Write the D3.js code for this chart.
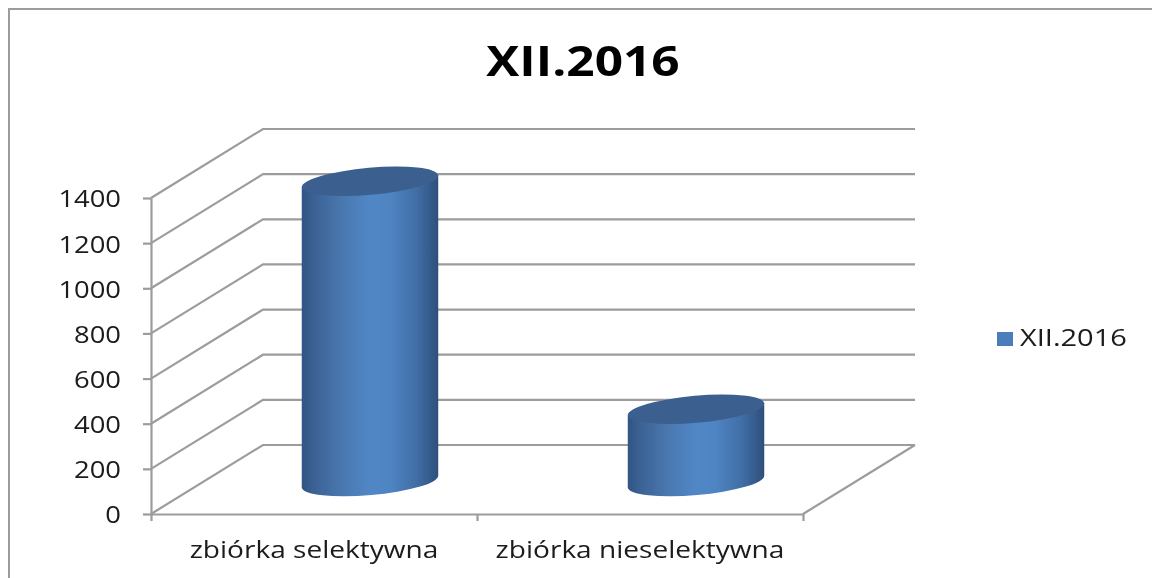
<!DOCTYPE html>
<html lang="en">
<head>
    <meta charset="UTF-8">
    <title>XII.2016</title>
    <script src="https://d3js.org/d3.v7.min.js"></script>
    <style>
        html, body { margin: 0; padding: 0; background: #fff; overflow: hidden; }
        text { font-family: "Open Sans", "Noto Sans", sans-serif; fill: #1a1a1a; }
    </style>
</head>
<body>
    <div id="chart"></div>
    <script>
        const categories = ["zbiórka selektywna", "zbiórka nieselektywna"];
        const values = [1330, 320];
        const yTicks = [0, 200, 400, 600, 800, 1000, 1200, 1400];
        const seriesName = "XII.2016";

        const width = 1152, height = 578;
        const plotLeft = 151, plotRight = 803, plotBottom = 514, plotTop = 198;

        // depth of the fake 3d box
        const depthX = 112, depthY = -69;

        const gridColor = "#9c9c9c";

        // the picture was stretched sideways, so the text has to be too
        function stretch(sel, factor) {
            sel.each(function() {
                d3.select(this)
                    .attr("textLength", this.getComputedTextLength() * factor)
                    .attr("lengthAdjust", "spacingAndGlyphs");
            });
        }

        const svg = d3.select("#chart").append("svg")
            .attr("width", width)
            .attr("height", height)
            .style("display", "block");

        const y = d3.scaleLinear().domain([0, 1400]).range([plotBottom, plotTop]);
        const x = d3.scaleBand().domain(categories).range([plotLeft, plotRight]);
        const edges = d3.scaleLinear().domain([0, categories.length]).range([plotLeft, plotRight]);

        const defs = svg.append("defs");
        const grad = defs.append("linearGradient").attr("id", "side");
        [[0, "#2f5583"], [0.1, "#3c6395"], [0.3, "#4a78b0"], [0.5, "#5187c6"], [0.65, "#4f84c2"], [0.85, "#3f6ca3"], [1, "#2e4f7b"]]
            .forEach(s => grad.append("stop").attr("offset", s[0]).attr("stop-color", s[1]));
        defs.append("filter").attr("id", "soft")
            .attr("filterUnits", "userSpaceOnUse")
            .attr("x", 0).attr("y", 0).attr("width", width).attr("height", height)
            .append("feGaussianBlur").attr("stdDeviation", 0.5);

        const plot = svg.append("g").attr("filter", "url(#soft)");

        // outer frame
        plot.append("path")
            .attr("d", `M9,${height}V9H${width}`)
            .attr("fill", "none")
            .attr("stroke", gridColor)
            .attr("stroke-width", 2);

        // side wall and back wall gridlines
        plot.append("g").selectAll("path")
            .data(yTicks)
            .join("path")
            .attr("d", d => `M${plotLeft},${y(d)}l${depthX},${depthY}H${plotRight + depthX}`)
            .attr("fill", "none")
            .attr("stroke", gridColor)
            .attr("stroke-width", 2.2);

        // floor edge
        plot.append("path")
            .attr("d", `M${plotRight + depthX},${y(0) + depthY}L${plotRight},${y(0)}`)
            .attr("fill", "none")
            .attr("stroke", gridColor)
            .attr("stroke-width", 2.2);

        // axes
        const yAxis = plot.append("g")
            .attr("transform", `translate(${plotLeft},0)`)
            .call(d3.axisLeft(y).tickValues(yTicks).tickFormat(d3.format("d")).tickSize(8).tickSizeOuter(0).tickPadding(22));
        const xAxis = plot.append("g")
            .attr("transform", `translate(0,${plotBottom})`)
            .call(d3.axisBottom(edges).tickValues(d3.range(categories.length + 1)).tickFormat("").tickSize(7).tickSizeOuter(0));
        [yAxis, xAxis].forEach(a => {
            a.selectAll("path, line").attr("stroke", gridColor).attr("stroke-width", 2.2);
        });
        yAxis.selectAll("text")
            .style("font-size", "23px")
            .style("font-family", "'Open Sans'")
            .attr("fill", "#1a1a1a")
            .attr("y", 1.5)
            .call(stretch, 1.19);

        plot.append("g").selectAll("text")
            .data(categories)
            .join("text")
            .attr("x", d => x(d) + x.bandwidth() / 2)
            .attr("y", 558)
            .attr("text-anchor", "middle")
            .style("font-size", "23px")
            .text(d => d)
            .call(stretch, 1.22);

        // cylinders, standing halfway into the depth
        const rx = 68.5, ry = 13.5, tilt = -5;
        const dx = rx * Math.cos(tilt * Math.PI / 180);
        const dy = rx * Math.sin(tilt * Math.PI / 180);
        const bars = plot.append("g").selectAll("g")
            .data(categories.map((c, i) => ({ c, v: values[i] })))
            .join("g");

        bars.append("path")
            .attr("fill", "url(#side)")
            .attr("d", d => {
                const cx = x(d.c) + x.bandwidth() / 2 + depthX / 2;
                const y0 = y(0) + depthY / 2 + 2;
                const y1 = y(d.v) + depthY / 2 + 2;
                return `M${cx - dx},${y1 - dy}L${cx - dx},${y0 - dy}` +
                    `A${rx},${ry} ${tilt} 0 0 ${cx + dx},${y0 + dy}` +
                    `L${cx + dx},${y1 + dy}Z`;
            });

        bars.append("ellipse")
            .attr("fill", "#3a618f")
            .attr("rx", rx)
            .attr("ry", ry)
            .attr("transform", d => {
                const cx = x(d.c) + x.bandwidth() / 2 + depthX / 2;
                return `translate(${cx},${y(d.v) + depthY / 2 + 2}) rotate(${tilt})`;
            });

        // legend
        const legend = plot.append("g");
        legend.append("rect")
            .attr("x", 997).attr("y", 332)
            .attr("width", 16).attr("height", 14)
            .attr("fill", "#4a7ebb");
        legend.append("text")
            .attr("x", 1020).attr("y", 346)
            .style("font-size", "23px")
            .text(seriesName)
            .call(stretch, 1.26);

        // title
        plot.append("text")
            .attr("x", 583).attr("y", 76)
            .attr("text-anchor", "middle")
            .style("font-size", "42px")
            .style("font-weight", "700")
            .style("fill", "#000")
            .text(seriesName)
            .call(stretch, 1.18);
    </script>
</body>
</html>
